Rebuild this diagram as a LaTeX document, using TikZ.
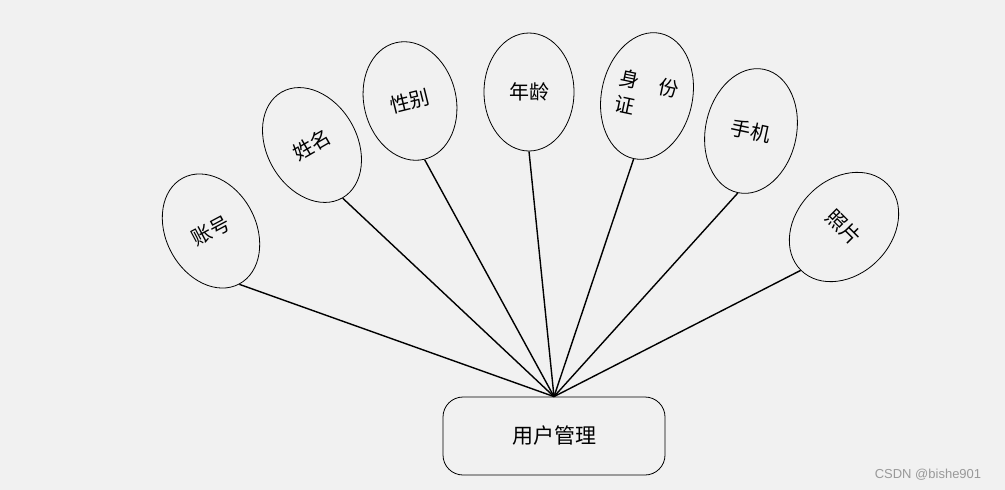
\documentclass[tikz,border=0pt]{standalone}
\usepackage{fontspec}
\setmainfont{Noto Sans CJK SC}
\newfontfamily\wmfont{Liberation Sans}
\usetikzlibrary{shapes.geometric}
\definecolor{bg}{HTML}{F1F1F1}
\tikzset{
  attr/.style={draw, ellipse, line width=0.8pt, inner sep=0pt, align=left,
    font=\fontsize{20}{26}\selectfont},
  entity/.style={draw, rounded corners=20, line width=0.8pt, minimum width=222,
    minimum height=78, font=\fontsize{21}{21}\selectfont},
  link/.style={line width=1.4pt}
}
\begin{document}
\begin{tikzpicture}[x=1pt,y=-1pt]
\fill[bg] (0,0) rectangle (1005,490);
\useasboundingbox (0,0) rectangle (1005,490);

\node[entity] (um) at (554,436) {用户管理};

\node[attr, minimum width=90, minimum height=120, rotate=28] (zh) at (211,231) {账号};
\node[attr, minimum width=90, minimum height=122, rotate=30] (xm) at (312,145) {姓名};
\node[attr, minimum width=92, minimum height=120, rotate=14] (xb) at (410,101) {性别};
\node[attr, minimum width=90, minimum height=118] (nl) at (529,92) {年龄};
\node[attr, minimum width=91, minimum height=128, rotate=-12] (sfz) at (647,96) {身\hspace{20pt}份\\证};
\node[attr, minimum width=91, minimum height=126, rotate=-12] (sj) at (751,131) {手机};
\node[attr, minimum width=95, minimum height=122, rotate=-45] (zp) at (844,227) {照片};

\draw[link] (um.north) -- (zh.south);
\draw[link] (um.north) -- (xm.south);
\draw[link] (um.north) -- (xb.south);
\draw[link] (um.north) -- (nl.south);
\draw[link] (um.north) -- (sfz.south);
\draw[link] (um.north) -- (sj.south);
\draw[link] (um.north) -- (zp.south);

\node[text=gray!80, font=\wmfont\fontsize{13}{13}\selectfont] (wm) at (928,475) {CSDN @bishe901};
\end{tikzpicture}
\end{document}
